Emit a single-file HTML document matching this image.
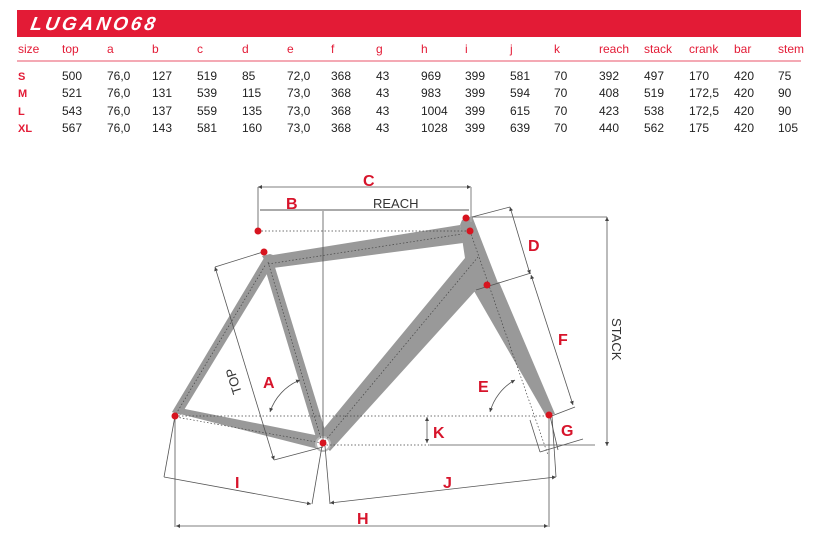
<!DOCTYPE html>
<html><head><meta charset="utf-8"><style>
html,body{margin:0;padding:0;background:#fff;}
svg{display:block;}
.h{font-family:"Liberation Sans",sans-serif;font-size:12px;fill:#e31b36;}
.d{font-family:"Liberation Sans",sans-serif;font-size:12px;fill:#222;}
.s{font-family:"Liberation Sans",sans-serif;font-size:11px;font-weight:bold;fill:#e31b36;}
.L{font-family:"Liberation Sans",sans-serif;font-size:16px;font-weight:bold;fill:#d7142b;}
</style></head><body>
<svg width="814" height="551" viewBox="0 0 814 551" xmlns="http://www.w3.org/2000/svg">
<defs>
<marker id="a" viewBox="0 0 6 6" refX="6" refY="3" markerWidth="5" markerHeight="5" orient="auto-start-reverse"><path d="M0 0 L6 3 L0 6 z" fill="#444"/></marker>
</defs>
<rect x="17" y="10" width="784" height="27" fill="#e31b36"/>
<text x="30" y="30" font-family="Liberation Sans,sans-serif" font-size="19" font-weight="bold" font-style="italic" fill="#fff" letter-spacing="3" transform="skewX(-10) translate(5,0)">LUGANO68</text>
<line x1="17" y1="61" x2="801" y2="61" stroke="#f4a9b4" stroke-width="2"/>
<g class="h">
<text x="18" y="53">size</text><text x="62" y="53">top</text><text x="107" y="53">a</text><text x="152" y="53">b</text><text x="197" y="53">c</text><text x="242" y="53">d</text><text x="287" y="53">e</text><text x="331" y="53">f</text><text x="376" y="53">g</text><text x="421" y="53">h</text><text x="465" y="53">i</text><text x="510" y="53">j</text><text x="554" y="53">k</text><text x="599" y="53">reach</text><text x="644" y="53">stack</text><text x="689" y="53">crank</text><text x="734" y="53">bar</text><text x="778" y="53">stem</text>
</g>
<g class="s"><text x="18" y="80">S</text><text x="18" y="97">M</text><text x="18" y="115">L</text><text x="18" y="132">XL</text></g>
<g class="d">
<text y="80"><tspan x="62">500</tspan><tspan x="107">76,0</tspan><tspan x="152">127</tspan><tspan x="197">519</tspan><tspan x="242">85</tspan><tspan x="287">72,0</tspan><tspan x="331">368</tspan><tspan x="376">43</tspan><tspan x="421">969</tspan><tspan x="465">399</tspan><tspan x="510">581</tspan><tspan x="554">70</tspan><tspan x="599">392</tspan><tspan x="644">497</tspan><tspan x="689">170</tspan><tspan x="734">420</tspan><tspan x="778">75</tspan></text>
<text y="97"><tspan x="62">521</tspan><tspan x="107">76,0</tspan><tspan x="152">131</tspan><tspan x="197">539</tspan><tspan x="242">115</tspan><tspan x="287">73,0</tspan><tspan x="331">368</tspan><tspan x="376">43</tspan><tspan x="421">983</tspan><tspan x="465">399</tspan><tspan x="510">594</tspan><tspan x="554">70</tspan><tspan x="599">408</tspan><tspan x="644">519</tspan><tspan x="689">172,5</tspan><tspan x="734">420</tspan><tspan x="778">90</tspan></text>
<text y="115"><tspan x="62">543</tspan><tspan x="107">76,0</tspan><tspan x="152">137</tspan><tspan x="197">559</tspan><tspan x="242">135</tspan><tspan x="287">73,0</tspan><tspan x="331">368</tspan><tspan x="376">43</tspan><tspan x="421">1004</tspan><tspan x="465">399</tspan><tspan x="510">615</tspan><tspan x="554">70</tspan><tspan x="599">423</tspan><tspan x="644">538</tspan><tspan x="689">172,5</tspan><tspan x="734">420</tspan><tspan x="778">90</tspan></text>
<text y="132"><tspan x="62">567</tspan><tspan x="107">76,0</tspan><tspan x="152">143</tspan><tspan x="197">581</tspan><tspan x="242">160</tspan><tspan x="287">73,0</tspan><tspan x="331">368</tspan><tspan x="376">43</tspan><tspan x="421">1028</tspan><tspan x="465">399</tspan><tspan x="510">639</tspan><tspan x="554">70</tspan><tspan x="599">440</tspan><tspan x="644">562</tspan><tspan x="689">175</tspan><tspan x="734">420</tspan><tspan x="778">105</tspan></text>
</g>

<g fill="#999" stroke="none">
<polygon points="262,256 270,254 273,255 460,225 463,243 273,268 268,266"/>
<polygon points="460,225 462,220 472,216 498,283 476,290 330,451 316,438 465,258"/>
<polygon points="474,291 499,282 555,414 546,416"/>
<polygon points="263,262 274,264 328,440 318,444"/>
<polygon points="264,258 273,264 181,415 172,412"/>
<polygon points="172,412 180,408 325,437 322,450"/>
</g>
<circle cx="323" cy="444" r="7" fill="#fff" stroke="#bbb" stroke-width="2"/>
<g fill="none" stroke="#444" stroke-width="0.7" stroke-dasharray="1.5,2">
<line x1="258" y1="231" x2="470" y2="231"/>
<line x1="175" y1="416" x2="549" y2="416"/>
<line x1="323" y1="445" x2="430" y2="445"/>
<line x1="268" y1="262" x2="322" y2="442"/>
<line x1="268" y1="264" x2="462" y2="234"/>
<line x1="470" y1="231" x2="548" y2="455"/>
<line x1="325" y1="441" x2="478" y2="257"/>
<line x1="176" y1="414" x2="266" y2="264"/>
<line x1="176" y1="417" x2="322" y2="443"/>
</g>
<g fill="none" stroke="#555" stroke-width="0.8">
<line x1="258" y1="187" x2="471" y2="187" marker-start="url(#a)" marker-end="url(#a)"/>
<line x1="258" y1="187" x2="258" y2="231"/>
<line x1="323" y1="210" x2="323" y2="446"/>
<line x1="430" y1="445" x2="595" y2="445"/>
<line x1="472" y1="217" x2="607" y2="217"/>
<line x1="607" y1="217" x2="607" y2="446" marker-start="url(#a)" marker-end="url(#a)"/>
<line x1="215" y1="267" x2="274" y2="460" marker-start="url(#a)" marker-end="url(#a)"/>
<line x1="215" y1="267" x2="263" y2="252"/>
<line x1="274" y1="460" x2="323" y2="447"/>
<line x1="175" y1="416" x2="164" y2="477"/>
<line x1="164" y1="477" x2="311" y2="504" marker-end="url(#a)"/>
<line x1="322" y1="446" x2="312" y2="504"/>
<line x1="325" y1="446" x2="330" y2="504"/>
<line x1="330" y1="503" x2="556" y2="477" marker-start="url(#a)" marker-end="url(#a)"/>
<line x1="175" y1="416" x2="175" y2="527"/>
<line x1="549" y1="415" x2="549" y2="527"/>
<line x1="176" y1="526" x2="548" y2="526" marker-start="url(#a)" marker-end="url(#a)"/>
<line x1="427" y1="417" x2="427" y2="443" marker-start="url(#a)" marker-end="url(#a)"/>
<line x1="472" y1="217" x2="510" y2="207"/>
<line x1="510" y1="207" x2="530" y2="274" marker-start="url(#a)" marker-end="url(#a)"/>
<line x1="531" y1="275" x2="573" y2="405" marker-start="url(#a)" marker-end="url(#a)"/>
<line x1="476" y1="290" x2="531" y2="273"/>
<line x1="549" y1="417" x2="575" y2="407"/>
<line x1="530" y1="420" x2="540" y2="452"/>
<line x1="540" y1="452" x2="583" y2="439"/>
<line x1="550" y1="416" x2="558" y2="450"/>
<line x1="552" y1="416" x2="556" y2="477"/>
<path d="M270 412 A52 52 0 0 1 300 380" marker-start="url(#a)" marker-end="url(#a)"/>
<path d="M490 412 A52 52 0 0 1 515 380" marker-start="url(#a)" marker-end="url(#a)"/>
</g>
<line x1="260" y1="210" x2="469" y2="210" stroke="#aaa" stroke-width="2"/>
<line x1="471" y1="187" x2="471" y2="222" stroke="#aaa" stroke-width="1.5"/>
<g fill="#d7141f">
<circle cx="258" cy="231" r="3.5"/><circle cx="264" cy="252" r="3.5"/><circle cx="466" cy="218" r="3.5"/><circle cx="470" cy="231" r="3.5"/><circle cx="487" cy="285" r="3.5"/><circle cx="175" cy="416" r="3.5"/><circle cx="323" cy="443" r="3.5"/><circle cx="549" cy="415" r="3.5"/>
</g>
<g class="L">
<text x="363" y="186">C</text><text x="286" y="209">B</text><text x="528" y="251">D</text><text x="558" y="345">F</text><text x="263" y="388">A</text><text x="478" y="392">E</text><text x="433" y="438">K</text><text x="561" y="436">G</text><text x="235" y="488">I</text><text x="443" y="488">J</text><text x="357" y="524">H</text>
</g>
<text x="373" y="208" font-family="Liberation Sans,sans-serif" font-size="13" fill="#333">REACH</text>
<text x="612" y="318" font-family="Liberation Sans,sans-serif" font-size="13" fill="#333" transform="rotate(90 612 318)">STACK</text>
<text x="238" y="380" font-family="Liberation Sans,sans-serif" font-size="13" fill="#333" text-anchor="middle" transform="rotate(-107 238 380)">TOP</text>
</svg>
</body></html>
